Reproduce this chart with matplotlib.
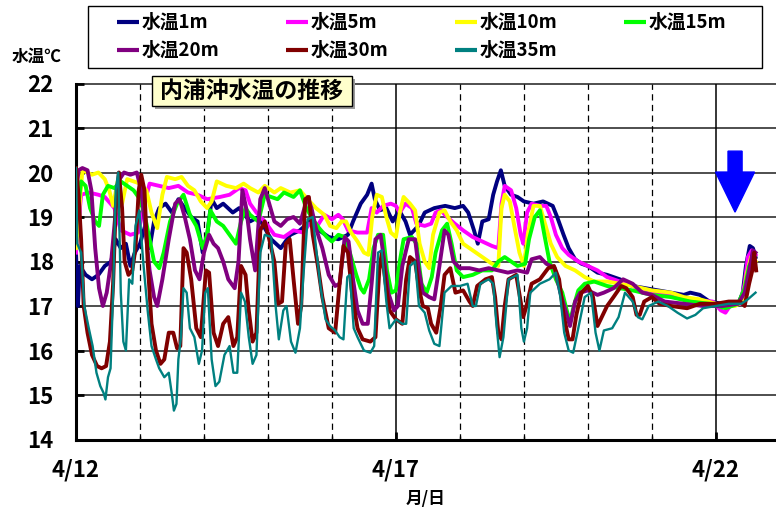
import matplotlib
matplotlib.use('Agg')
import matplotlib.pyplot as plt
from matplotlib.patches import FancyArrow, Rectangle
from matplotlib.lines import Line2D

plt.rcParams['font.family'] = ['Noto Sans CJK JP', 'DejaVu Sans']
plt.rcParams['font.weight'] = 'bold'

# ---------------- data (days since 4/12, water temperature degC) ----------------
labels = ['水温1m', '水温5m', '水温10m', '水温15m', '水温20m', '水温30m', '水温35m']
colors = ['#000080', '#FF00FF', '#FFFF00', '#00FF00', '#800080', '#800000', '#008080']
x_tick_days = [0, 5, 10]
x_tick_labels = ['4/12', '4/17', '4/22']
y_ticks = [14, 15, 16, 17, 18, 19, 20, 21, 22]

t_1m = [0.00, 0.03, 0.06, 0.15, 0.25, 0.35, 0.45, 0.55, 0.62, 0.70, 0.78, 0.85, 0.92, 1.00, 1.08, 1.15,
        1.22, 1.30, 1.40, 1.50, 1.60, 1.70, 1.80, 1.90, 1.98, 2.05, 2.12, 2.20, 2.30, 2.45, 2.55, 2.72,
        2.85, 3.05, 3.20, 3.35, 3.50, 3.65, 3.80, 3.95, 4.10, 4.25, 4.33, 4.45, 4.55, 4.62, 4.67, 4.75,
        4.85, 4.95, 5.05, 5.15, 5.22, 5.35, 5.45, 5.60, 5.77, 5.92, 6.05, 6.13, 6.22, 6.28, 6.35, 6.45,
        6.52, 6.58, 6.64, 6.70, 6.80, 6.90, 7.00, 7.15, 7.30, 7.45, 7.52, 7.62, 7.70, 7.80, 7.90, 8.00,
        8.15, 8.30, 8.50, 8.70, 8.90, 9.10, 9.30, 9.50, 9.60, 9.75, 9.90, 10.10, 10.35, 10.42, 10.47,
        10.53, 10.58, 10.62]
v_1m = [18.2, 17.0, 17.9, 17.7, 17.6, 17.7, 17.9, 18.0, 18.5, 18.3, 18.4, 17.9, 18.2, 18.4, 18.8, 18.3,
        18.9, 19.2, 19.3, 19.1, 19.4, 19.2, 19.0, 18.9, 18.2, 18.6, 19.4, 19.2, 19.3, 19.1, 19.2, 18.9,
        19.0, 18.5, 18.3, 18.6, 18.7, 18.9, 18.7, 18.55, 18.5, 18.6, 18.9, 19.3, 19.5, 19.75, 19.4, 19.15,
        19.2, 18.9, 19.15, 18.9, 18.6, 18.8, 19.1, 19.2, 19.25, 19.2, 19.25, 19.1, 18.7, 18.4, 18.9, 18.95,
        19.5, 19.8, 20.05, 19.7, 19.5, 19.45, 19.35, 19.3, 19.35, 19.25, 19.0, 18.6, 18.3, 18.05, 17.95, 17.9,
        17.75, 17.7, 17.6, 17.45, 17.4, 17.35, 17.3, 17.25, 17.3, 17.25, 17.1, 17.05, 17.05, 17.3, 17.9,
        18.35, 18.3, 18.1]

t_5m = [0.00, 0.03, 0.08, 0.20, 0.35, 0.45, 0.60, 0.70, 0.85, 0.97, 1.05, 1.15, 1.30, 1.45, 1.60, 1.75,
        1.90, 2.05, 2.25, 2.40, 2.55, 2.65, 2.72, 2.82, 2.95, 3.10, 3.25, 3.40, 3.55, 3.65, 3.75, 3.88,
        4.00, 4.10, 4.17, 4.25, 4.40, 4.55, 4.62, 4.70, 4.80, 4.92, 5.00, 5.06, 5.15, 5.25, 5.32, 5.45,
        5.55, 5.62, 5.70, 5.80, 5.92, 6.05, 6.20, 6.35, 6.50, 6.60, 6.65, 6.70, 6.80, 6.88, 6.95, 6.99,
        7.05, 7.12, 7.25, 7.35, 7.42, 7.50, 7.60, 7.70, 7.85, 8.00, 8.15, 8.30, 8.50, 8.70, 9.00, 9.30,
        9.50, 9.75, 9.95, 10.08, 10.15, 10.22, 10.38, 10.45, 10.50, 10.56, 10.62]
v_5m = [18.2, 18.7, 19.5, 19.55, 19.5, 19.45, 19.2, 18.7, 18.6, 18.65, 19.2, 19.75, 19.7, 19.65, 19.7, 19.55,
        19.5, 19.4, 19.45, 19.5, 19.65, 19.6, 19.3, 19.1, 18.9, 18.6, 18.55, 18.7, 18.65, 18.85, 18.75, 19.05,
        18.95, 19.05, 18.95, 18.7, 18.65, 18.65, 19.2, 19.1, 19.25, 19.3, 19.25, 19.1, 19.3, 19.2, 18.85, 18.8,
        18.85, 19.1, 19.15, 19.0, 18.85, 18.7, 18.55, 18.45, 18.35, 18.3, 19.3, 19.7, 19.6, 19.2, 18.6, 18.4,
        19.1, 19.3, 19.25, 19.25, 19.0, 18.6, 18.3, 18.15, 18.0, 17.9, 17.8, 17.65, 17.55, 17.45, 17.3, 17.25,
        17.15, 17.12, 17.1, 16.9, 16.85, 17.0, 17.05, 17.5, 18.1, 18.25, 18.15]

t_10m = [0.00, 0.04, 0.10, 0.25, 0.35, 0.45, 0.52, 0.58, 0.65, 0.72, 0.80, 0.90, 1.00, 1.10, 1.18, 1.27,
         1.35, 1.42, 1.55, 1.65, 1.75, 1.85, 1.95, 2.05, 2.12, 2.20, 2.35, 2.50, 2.62, 2.72, 2.85, 2.95,
         3.10, 3.20, 3.35, 3.50, 3.62, 3.75, 3.88, 3.97, 4.07, 4.15, 4.22, 4.30, 4.40, 4.50, 4.57, 4.63,
         4.70, 4.78, 4.85, 4.92, 5.00, 5.06, 5.12, 5.22, 5.30, 5.37, 5.45, 5.52, 5.58, 5.68, 5.76, 5.85,
         5.95, 6.05, 6.20, 6.35, 6.50, 6.60, 6.65, 6.70, 6.78, 6.85, 6.93, 7.00, 7.06, 7.15, 7.25, 7.33,
         7.42, 7.52, 7.65, 7.80, 7.95, 8.10, 8.30, 8.50, 8.70, 9.00, 9.30, 9.50, 9.75, 10.00, 10.30, 10.42,
         10.48, 10.55, 10.62]
v_10m = [18.3, 19.0, 20.05, 19.95, 20.0, 19.85, 19.6, 19.25, 19.8, 19.3, 19.85, 19.8, 19.75, 19.6, 19.1, 18.75,
         19.5, 19.9, 19.85, 19.9, 19.7, 19.6, 19.35, 19.2, 19.35, 19.8, 19.7, 19.65, 19.75, 19.65, 19.55, 19.7,
         19.55, 19.65, 19.55, 19.6, 19.4, 19.2, 19.05, 18.8, 18.75, 18.9, 18.9, 18.65, 18.45, 18.2, 18.15, 19.0,
         19.5, 19.45, 19.0, 18.65, 18.55, 19.1, 19.45, 19.3, 19.15, 18.4, 18.0, 17.85, 18.6, 19.1, 19.15, 18.9,
         18.7, 18.4, 18.25, 18.1, 17.95, 17.9, 19.2, 19.5, 19.35, 18.8, 18.2, 17.9, 18.6, 19.25, 19.25, 18.85,
         18.4, 18.1, 17.9, 17.8, 17.65, 17.55, 17.55, 17.5, 17.45, 17.35, 17.3, 17.2, 17.15, 17.05, 17.0, 17.1,
         17.7, 18.1, 18.0]

t_15m = [0.00, 0.04, 0.08, 0.15, 0.22, 0.30, 0.36, 0.42, 0.50, 0.60, 0.70, 0.80, 0.90, 1.00, 1.08, 1.15,
         1.22, 1.30, 1.37, 1.47, 1.58, 1.68, 1.78, 1.88, 1.98, 2.05, 2.10, 2.20, 2.30, 2.40, 2.50, 2.58,
         2.65, 2.72, 2.85, 2.95, 3.05, 3.15, 3.25, 3.40, 3.50, 3.60, 3.70, 3.80, 3.92, 4.00, 4.10, 4.20,
         4.28, 4.38, 4.45, 4.50, 4.58, 4.65, 4.72, 4.80, 4.86, 4.93, 5.00, 5.06, 5.12, 5.25, 5.32, 5.40,
         5.48, 5.56, 5.62, 5.72, 5.80, 5.87, 5.95, 6.05, 6.20, 6.35, 6.50, 6.60, 6.70, 6.80, 6.90, 7.02,
         7.08, 7.17, 7.25, 7.32, 7.40, 7.50, 7.60, 7.67, 7.72, 7.78, 7.85, 7.95, 8.10, 8.30, 8.50, 8.70,
         9.00, 9.30, 9.60, 9.90, 10.15, 10.35, 10.45, 10.52, 10.58, 10.62]
v_15m = [18.8, 19.3, 19.8, 19.7, 19.2, 18.9, 18.8, 19.5, 19.7, 19.65, 19.8, 19.7, 19.6, 19.4, 19.0, 18.5,
         18.0, 17.85, 18.2, 18.9, 19.3, 19.5, 19.05, 18.8, 18.3, 18.6, 19.15, 18.9, 18.8, 18.6, 18.4, 18.9,
         19.2, 19.05, 18.9, 19.5, 19.45, 19.4, 19.55, 19.45, 19.6, 19.2, 18.95, 18.75, 18.55, 18.45, 18.6, 18.55,
         18.2, 17.7, 17.4, 17.3, 17.6, 18.3, 18.6, 18.6, 17.8, 17.3, 17.35, 18.0, 18.5, 18.55, 18.4, 17.5,
         17.3, 17.65, 18.2, 18.7, 18.85, 18.4, 17.8, 17.65, 17.7, 17.8, 17.8, 18.0, 18.1, 18.0, 17.9, 17.95,
         18.5, 19.0, 19.15, 18.6, 18.0, 17.6, 17.3, 16.9, 16.65, 17.0, 17.35, 17.5, 17.55, 17.45, 17.4, 17.35,
         17.25, 17.2, 17.1, 17.05, 16.95, 17.05, 17.4, 17.9, 18.05, 17.85]

t_20m = [0.00, 0.04, 0.10, 0.18, 0.24, 0.30, 0.36, 0.42, 0.48, 0.55, 0.60, 0.66, 0.75, 0.85, 0.95, 1.02,
         1.08, 1.15, 1.22, 1.27, 1.35, 1.45, 1.55, 1.62, 1.70, 1.78, 1.86, 1.93, 2.00, 2.08, 2.15, 2.22,
         2.30, 2.38, 2.48, 2.54, 2.60, 2.66, 2.72, 2.80, 2.88, 2.95, 3.02, 3.10, 3.20, 3.30, 3.40, 3.50,
         3.62, 3.68, 3.75, 3.85, 3.95, 4.05, 4.12, 4.20, 4.26, 4.33, 4.40, 4.48, 4.56, 4.62, 4.68, 4.76,
         4.82, 4.88, 4.97, 5.03, 5.10, 5.20, 5.30, 5.36, 5.42, 5.52, 5.60, 5.68, 5.76, 5.82, 5.90, 6.00,
         6.15, 6.30, 6.45, 6.60, 6.75, 6.90, 7.05, 7.12, 7.25, 7.35, 7.48, 7.57, 7.65, 7.72, 7.80, 7.88,
         8.00, 8.15, 8.25, 8.40, 8.55, 8.70, 8.85, 9.00, 9.20, 9.50, 9.80, 10.10, 10.35, 10.45, 10.52,
         10.58, 10.62]
v_20m = [19.5, 20.05, 20.1, 20.05, 19.6, 18.3, 17.4, 17.0, 17.3, 18.0, 18.8, 19.8, 20.0, 19.95, 20.0, 19.6,
         18.8, 17.8, 17.2, 17.0, 17.6, 18.5, 19.3, 19.4, 19.0, 18.5, 17.8, 17.6, 18.2, 18.6, 18.4, 18.3,
         18.0, 17.6, 17.4, 18.0, 19.6, 19.2, 18.5, 17.8, 19.4, 19.65, 19.3, 18.9, 18.8, 18.95, 19.0, 18.85,
         19.45, 19.2, 18.75, 18.3, 17.7, 17.45, 17.5, 18.55, 18.45, 17.6, 16.9, 16.6, 16.6, 17.5, 18.5, 18.6,
         18.0, 17.3, 16.9, 17.0, 17.9, 18.5, 18.5, 17.8, 17.3, 17.2, 17.15, 17.9, 18.7, 18.6, 18.0, 17.85,
         17.85, 17.8, 17.85, 17.8, 17.75, 17.8, 17.75, 18.05, 18.1, 17.95, 17.85, 17.3, 16.9, 16.55, 17.1, 17.3,
         17.35, 17.25, 17.3, 17.4, 17.6, 17.5, 17.3, 17.25, 17.1, 17.05, 17.0, 17.0, 17.05, 17.3, 17.8,
         18.25, 18.2]

t_30m = [0.00, 0.04, 0.08, 0.12, 0.18, 0.25, 0.33, 0.40, 0.47, 0.53, 0.58, 0.62, 0.67, 0.72, 0.76, 0.82,
         0.88, 0.93, 0.98, 1.02, 1.07, 1.12, 1.18, 1.25, 1.32, 1.38, 1.45, 1.52, 1.58, 1.63, 1.68, 1.73,
         1.80, 1.88, 1.95, 2.03, 2.08, 2.15, 2.22, 2.30, 2.38, 2.46, 2.52, 2.58, 2.65, 2.70, 2.76, 2.82,
         2.88, 2.95, 3.02, 3.10, 3.16, 3.22, 3.28, 3.34, 3.40, 3.47, 3.52, 3.58, 3.64, 3.70, 3.78, 3.85,
         3.95, 4.05, 4.12, 4.18, 4.25, 4.32, 4.40, 4.48, 4.60, 4.68, 4.74, 4.78, 4.84, 4.90, 5.00, 5.10,
         5.16, 5.22, 5.30, 5.36, 5.42, 5.50, 5.55, 5.63, 5.70, 5.76, 5.85, 5.93, 6.05, 6.15, 6.20, 6.27,
         6.40, 6.50, 6.55, 6.60, 6.65, 6.70, 6.76, 6.88, 6.95, 6.99, 7.04, 7.12, 7.25, 7.38, 7.47, 7.55,
         7.62, 7.70, 7.76, 7.82, 7.90, 8.00, 8.08, 8.15, 8.20, 8.30, 8.40, 8.52, 8.60, 8.70, 8.76, 8.81,
         8.88, 9.00, 9.12, 9.30, 9.55, 9.75, 10.00, 10.20, 10.38, 10.45, 10.52, 10.57, 10.60, 10.63]
v_30m = [20.1, 19.5, 18.5, 17.0, 16.4, 15.9, 15.65, 15.6, 15.65, 16.2, 17.5, 19.2, 20.0, 19.2, 18.0, 17.7,
         17.8, 18.3, 19.6, 19.95, 19.6, 18.0, 16.6, 16.0, 15.7, 15.8, 16.4, 16.4, 16.05, 16.1, 18.3, 18.2,
         17.6, 16.5, 16.3, 17.8, 17.75, 16.4, 16.1, 16.6, 16.75, 16.1, 16.3, 17.9, 17.7, 16.9, 16.2, 16.4,
         18.7, 18.9, 18.5, 18.0, 17.05, 17.1, 18.4, 18.5, 17.6, 16.6, 17.0, 19.4, 19.45, 18.6, 17.9, 17.2,
         16.5, 16.4, 17.5, 18.35, 18.2, 17.2, 16.5, 16.25, 16.2, 16.3, 17.8, 18.2, 17.5, 16.9, 16.7, 16.6,
         17.6, 18.1, 18.0, 17.4, 17.0, 16.95, 16.6, 16.4, 17.0, 17.7, 17.85, 17.3, 17.35, 17.1, 17.0, 17.45,
         17.6, 17.65, 17.2, 16.4, 16.25, 17.0, 17.6, 17.7, 17.1, 16.75, 17.0, 17.5, 17.6, 17.85, 17.9, 17.6,
         16.8, 16.25, 16.25, 16.8, 17.3, 17.45, 17.2, 16.55, 16.7, 17.0, 17.2, 17.45, 17.4, 17.2, 16.8, 16.8,
         17.1, 17.2, 17.05, 17.0, 16.95, 17.05, 17.05, 17.1, 17.1, 17.0, 17.5, 17.8, 18.2, 17.8]

t_35m = [0.00, 0.02, 0.08, 0.13, 0.20, 0.26, 0.32, 0.38, 0.43, 0.46, 0.50, 0.54, 0.58, 0.62, 0.66, 0.70,
         0.74, 0.78, 0.83, 0.88, 0.93, 0.99, 1.05, 1.12, 1.18, 1.25, 1.30, 1.38, 1.45, 1.50, 1.53, 1.57,
         1.60, 1.64, 1.68, 1.73, 1.78, 1.85, 1.92, 1.97, 2.02, 2.06, 2.12, 2.18, 2.24, 2.32, 2.40, 2.46,
         2.52, 2.58, 2.64, 2.70, 2.76, 2.82, 2.88, 2.95, 3.05, 3.12, 3.17, 3.24, 3.29, 3.36, 3.43, 3.50,
         3.56, 3.62, 3.70, 3.76, 3.82, 3.90, 3.97, 4.05, 4.12, 4.18, 4.24, 4.28, 4.34, 4.40, 4.50, 4.60,
         4.66, 4.72, 4.78, 4.85, 4.90, 5.00, 5.10, 5.16, 5.22, 5.30, 5.36, 5.45, 5.52, 5.60, 5.68, 5.76,
         5.87, 6.00, 6.12, 6.20, 6.25, 6.32, 6.45, 6.52, 6.57, 6.62, 6.68, 6.76, 6.90, 6.96, 7.00, 7.05,
         7.10, 7.25, 7.40, 7.50, 7.57, 7.63, 7.70, 7.77, 7.85, 7.95, 8.05, 8.12, 8.18, 8.25, 8.38, 8.48,
         8.58, 8.70, 8.78, 8.85, 8.95, 9.10, 9.25, 9.40, 9.55, 9.68, 9.80, 10.00, 10.20, 10.40, 10.50,
         10.58, 10.62]
v_35m = [20.1, 18.4, 18.2, 17.0, 16.5, 16.1, 15.5, 15.2, 15.05, 14.9, 15.4, 15.6, 17.3, 19.6, 20.0, 17.3,
         16.2, 16.0, 17.6, 17.5, 18.8, 19.15, 18.0, 16.9, 16.1, 15.8, 15.6, 15.4, 15.5, 15.0, 14.65, 14.8,
         15.8, 16.3, 17.4, 17.3, 16.5, 16.3, 15.7, 16.0, 17.3, 17.4, 15.8, 15.2, 15.3, 15.9, 16.1, 15.5,
         15.5, 17.3, 17.1, 16.3, 15.7, 15.9, 18.2, 18.6, 18.55, 17.0, 16.25, 16.9, 17.0, 16.2, 15.95, 16.5,
         17.8, 18.95, 19.0, 18.2, 17.45, 16.7, 16.55, 16.45, 16.3, 16.25, 17.65, 17.7, 16.5, 16.3, 16.0, 15.95,
         16.1, 18.2, 18.25, 17.1, 16.5, 16.7, 16.6, 16.6, 17.9, 18.0, 17.0, 16.85, 16.45, 16.15, 16.1, 17.3,
         17.45, 17.45, 17.5, 17.0, 17.0, 17.5, 17.6, 17.5, 16.6, 15.85, 16.3, 17.6, 17.7, 16.5, 16.2, 16.5,
         17.3, 17.5, 17.6, 17.75, 17.2, 16.4, 16.0, 15.95, 16.5, 17.2, 17.3, 16.4, 16.0, 16.45, 16.5, 16.75,
         17.3, 17.1, 16.75, 16.7, 17.0, 17.1, 17.0, 16.85, 16.72, 16.8, 16.95, 17.0, 17.05, 17.05, 17.15,
         17.25, 17.3]

series_t = [t_1m, t_5m, t_10m, t_15m, t_20m, t_30m, t_35m]
series_v = [v_1m, v_5m, v_10m, v_15m, v_20m, v_30m, v_35m]
line_widths = [2.8, 2.8, 2.8, 2.8, 2.8, 2.8, 1.7]

# ---------------- figure ----------------
W, H = 776, 516
fig = plt.figure(figsize=(W / 100, H / 100), dpi=100)
ax = fig.add_axes([76 / W, 1 - 439.5 / H, 1 - 76 / W, 356 / H])
ax.set_xlim(0, 10.94)
ax.set_ylim(14, 22)


def fx(px):
    return px / W


def fy(py):
    return 1 - py / H


# grid
for yv in y_ticks[1:]:
    ax.axhline(yv, color='#404040', lw=1.3, zorder=1, clip_on=False)
for d in range(1, 11):
    if d in x_tick_days:
        ax.axvline(d, color='black', lw=1.1, zorder=1)
    else:
        ax.axvline(d, color='black', lw=0.9, ls=(0, (5, 3.5)), zorder=1)

for t, v, c, lw, lab in zip(series_t, series_v, colors, line_widths, labels):
    ax.plot(t, v, color=c, lw=lw, solid_joinstyle='round', zorder=3, label=lab)

# spines / ticks
for s in ['top', 'right']:
    ax.spines[s].set_visible(False)
ax.spines['left'].set_linewidth(2.2)
ax.spines['bottom'].set_linewidth(2.2)
ax.set_yticks(y_ticks)
ax.set_yticklabels([str(v) for v in y_ticks], fontsize=16, fontweight='bold')
ax.set_xticks(x_tick_days)
ax.set_xticklabels(x_tick_labels, fontsize=16, fontweight='bold')
ax.set_xticks(range(0, 11), minor=True)
ax.tick_params(axis='y', direction='in', length=6, width=2, pad=16)
ax.tick_params(axis='x', which='major', direction='in', length=6, width=2, pad=14)
ax.tick_params(axis='x', which='minor', direction='in', length=3, width=1)
ax.set_xlabel('月/日', fontsize=12, fontweight='bold', labelpad=6)

# legend drawn as a framed box with 4 columns, row-major order
fig.patches.append(Rectangle((fx(88), fy(68)), fx(762) - fx(88), fy(6) - fy(68),
                             transform=fig.transFigure, fc='white', ec='black', lw=1.0, zorder=4))
for i, (lab, c) in enumerate(zip(labels, colors)):
    col, row = i % 4, i // 4
    x0 = 117 + 169 * col
    yc = 22 + 28 * row
    fig.add_artist(Line2D([fx(x0), fx(x0 + 22)], [fy(yc), fy(yc)], transform=fig.transFigure,
                          color=c, lw=3, solid_capstyle='butt', zorder=5))
    fig.text(fx(x0 + 25), fy(yc), lab, fontsize=13.5, fontweight='bold', ha='left', va='center',
             zorder=6)

# axis unit label
fig.text(fx(37), fy(57), '水温℃', fontsize=12, fontweight='bold', ha='center', va='center')

# title box with shadow
fig.patches.append(Rectangle((fx(155), fy(109)), fx(200), fy(76) - fy(106),
                             transform=fig.transFigure, fc='#9A9A9A', ec='none', zorder=4))
fig.patches.append(Rectangle((fx(152), fy(106)), fx(200), fy(76) - fy(106),
                             transform=fig.transFigure, fc='#FFFFCC', ec='black', lw=1.0, zorder=4))
fig.text(fx(252), fy(91.5), '内浦沖水温の推移', fontsize=16.5, fontweight='bold', ha='center',
         va='center', zorder=6)

# blue arrow
arrow = FancyArrow(10.3, 20.48, 0, -1.37, width=0.22, head_width=0.61, head_length=0.9,
                   length_includes_head=True, color='#0000FF', zorder=5)
ax.add_patch(arrow)

fig.savefig('out.png', dpi=100)
